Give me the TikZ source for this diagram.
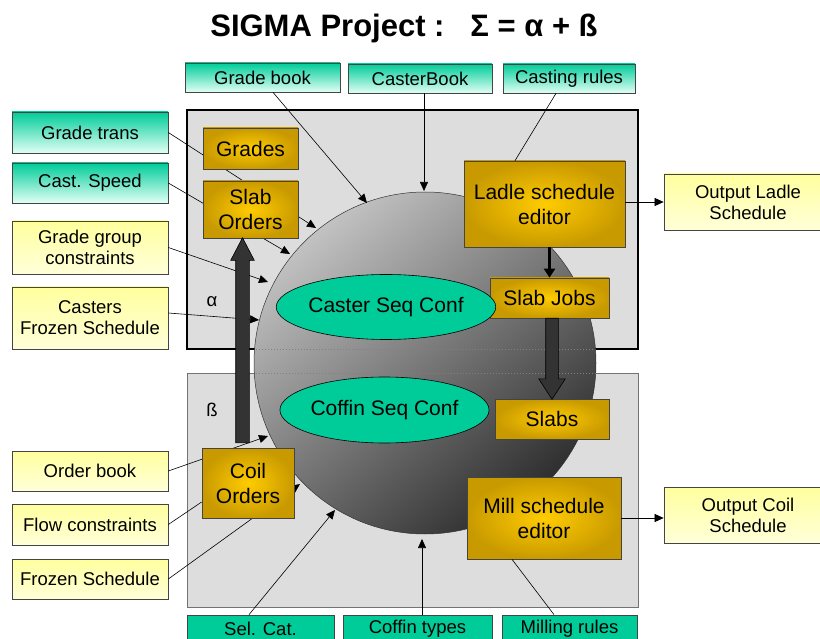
\documentclass[tikz,border=0pt]{standalone}
\usepackage{fontspec}
\setmainfont{Liberation Sans}
\usetikzlibrary{arrows.meta,calc,shapes.geometric,shapes.arrows}
\definecolor{tealtop}{HTML}{00CC99}
\definecolor{tealbot}{HTML}{E2FFF5}
\definecolor{creamtop}{HTML}{FFFF9E}
\definecolor{creambot}{HTML}{FFFFD9}
\definecolor{goldin}{HTML}{FFCC00}
\definecolor{goldout}{HTML}{C99A00}
\definecolor{panel}{HTML}{DDDDDD}
\definecolor{fatgray}{HTML}{333333}
\definecolor{edge}{HTML}{444444}
\newcommand{\boxfont}{\fontsize{18.5}{21}\selectfont}
\newcommand{\toolfont}{\fontsize{21}{25}\selectfont}
\newcommand{\headfont}{\fontsize{31}{34}\selectfont\bfseries}

\tikzset{
  srcbox/.style={draw=edge,line width=0.7pt,top color=tealtop,bottom color=tealbot,
    font=\boxfont,align=center,inner sep=0},
  cstbox/.style={draw=edge,line width=0.7pt,top color=creamtop,bottom color=creambot,
    font=\boxfont,align=center,inner sep=0},
  toolbox/.style={draw=edge,line width=0.7pt,inner color=goldin,outer color=goldout,
    font=\toolfont,align=center,inner sep=0},
  confell/.style={ellipse,draw=black,line width=0.6pt,fill=tealtop,font=\toolfont,inner sep=0},
  feed/.style={line width=0.6pt,-{Triangle[length=9pt,width=8pt]}},
  link/.style={line width=0.6pt},
  bigarrow/.style={single arrow,draw=black,line width=0.6pt,fill=fatgray,anchor=tail}
}

\begin{document}
\begin{tikzpicture}[x=1pt,y=-1pt]
\clip (0,0) rectangle (820,639);
\node[font=\headfont] (head) at (404,28) {SIGMA Project :\ \ \ Σ = α + ß};

% the two panels
\draw[fill=panel,line width=2pt] (187,110) rectangle (638,349);
\draw[fill=panel,draw=black!55,line width=0.8pt] (187,373) rectangle (638,607);
\node[font=\boxfont] (alpha) at (212,302) {α};
\node[font=\boxfont] (beta) at (212,410) {ß};

% the sphere
\shade[top color=black!24,bottom color=black!82,shading angle=40,draw=black!80,line width=0.5pt]
  (425,363) circle (171);
\begin{scope}
  \clip (425,363) circle (171);
  \draw[black!50,dash pattern=on 1pt off 2pt] (187,349) -- (638,349);
  \draw[black!50,dash pattern=on 1pt off 2pt] (187,373) -- (638,373);
\end{scope}

% inputs and outputs
\node[srcbox,minimum width=155pt,minimum height=29pt] (gbook) at (262.5,77.5) {Grade book};
\node[srcbox,minimum width=144pt,minimum height=29pt] (cbook) at (420,78.5) {CasterBook};
\node[srcbox,minimum width=132pt,minimum height=29pt] (crules) at (569,78.5) {Casting rules};
\node[srcbox,minimum width=156pt,minimum height=41pt] (gtrans) at (90,132.5) {Grade trans};
\node[srcbox,minimum width=156pt,minimum height=40pt] (cspeed) at (90,183) {Cast. Speed};
\node[cstbox,minimum width=156pt,minimum height=53pt] (ggroup) at (90,247.5) {Grade group\\constraints};
\node[cstbox,minimum width=156pt,minimum height=62pt] (cfrozen) at (90,318) {Casters\\Frozen Schedule};
\node[cstbox,minimum width=156pt,minimum height=40pt] (obook) at (90,471) {Order book};
\node[cstbox,minimum width=156pt,minimum height=41pt] (flow) at (90,524.5) {Flow constraints};
\node[cstbox,minimum width=156pt,minimum height=40pt] (frozen) at (90,579) {Frozen Schedule};
\node[cstbox,minimum width=168pt,minimum height=56pt] (outladle) at (748,202) {Output Ladle\\Schedule};
\node[cstbox,minimum width=168pt,minimum height=56pt] (outcoil) at (748,515) {Output Coil\\Schedule};
\node[srcbox,top color=tealtop,bottom color=tealtop,minimum width=147pt,minimum height=28pt] (selcat) at (260.5,629) {Sel. Cat.};
\node[srcbox,top color=tealtop,bottom color=tealtop,minimum width=149pt,minimum height=28pt] (ctypes) at (417.5,629) {Coffin types};
\node[srcbox,top color=tealtop,bottom color=tealtop,minimum width=135pt,minimum height=28pt] (mrules) at (569.5,629) {Milling rules};

% where the feeds hit the sphere
\coordinate (tipGB) at (367,203);
\coordinate (tipCB) at (424,191);
\coordinate (tipGT) at (316,228);
\coordinate (tipCS) at (290,254);
\coordinate (tipGG) at (268,282);
\coordinate (tipCF) at (259,320);
\coordinate (tipOB) at (268,436);
\coordinate (tipFS) at (300,484);
\coordinate (tipSC) at (335,510);
\coordinate (tipCT) at (422,539);

\draw[feed] ($(gbook.south)+(10.5,0)$) -- (tipGB);
\draw[feed] (tipCB |- cbook.south) -- (tipCB);
\draw[feed] (gtrans.east) -- (tipGT);
\draw[feed] (cspeed.east) -- (tipCS);
\draw[feed] (ggroup.east) -- (tipGG);
\draw[feed] ($(cfrozen.east)+(0,-5)$) -- (tipCF);
\draw[feed] (obook.east) -- (tipOB);
\draw[feed] (frozen.east) -- (tipFS);
\draw[feed] ($(selcat.north)+(-11.5,0)$) -- (tipSC);
\draw[feed] (tipCT |- ctypes.north) -- (tipCT);

% editors and work lists
\node[toolbox,minimum width=95pt,minimum height=41pt] (grades) at (250.5,148.5) {Grades};
\node[toolbox,minimum width=95pt,minimum height=57pt] (slaborders) at (250.5,209.5) {Slab\\Orders};
\node[toolbox,minimum width=161pt,minimum height=86pt] (ladle) at (544.5,204) {Ladle schedule\\editor};
\node[toolbox,minimum width=119pt,minimum height=40pt] (slabjobs) at (549.5,298) {Slab Jobs};
\node[toolbox,minimum width=114pt,minimum height=40pt] (slabs) at (552,419) {Slabs};
\node[toolbox,minimum width=92pt,minimum height=70pt] (coil) at (248,483) {Coil\\Orders};
\node[toolbox,minimum width=154pt,minimum height=82pt] (mill) at (544,518) {Mill schedule\\editor};
\node[confell,minimum width=188pt,minimum height=65pt] (casterseq) at (386,307) {Caster Seq Conf};
\node[confell,minimum width=193pt,minimum height=66pt] (coffinseq) at (384.5,410) {Coffin Seq Conf};

\draw[link] ($(crules.south)+(-13,0)$) -- ($(ladle.north)+(-29.5,0)$);
\draw[link] ($(mrules.north)+(-15.5,0)$) -- ($(mill.south)+(-32,0)$);
\draw[link] (flow.east) -- ($(coil.west)+(0,19)$);
\draw[feed] (ladle.east |- outladle.west) -- (outladle.west);
\draw[feed] (mill.east) -- (mill.east -| outcoil.west);
\draw[line width=3pt,-{Triangle[length=9pt,width=11pt]}] (ladle.south -| slabjobs.north) -- (slabjobs.north);

% the broad flows
\node[bigarrow,rotate=90,inner sep=6.5pt,single arrow head extend=5pt,single arrow tip angle=55,
  minimum height=205pt] (orderflow) at (242.5,443) {};
\node[bigarrow,rotate=-90,inner sep=6pt,single arrow head extend=7pt,single arrow tip angle=66,
  minimum height=81pt] (slabflow) at (552,318) {};
\end{tikzpicture}
\end{document}
